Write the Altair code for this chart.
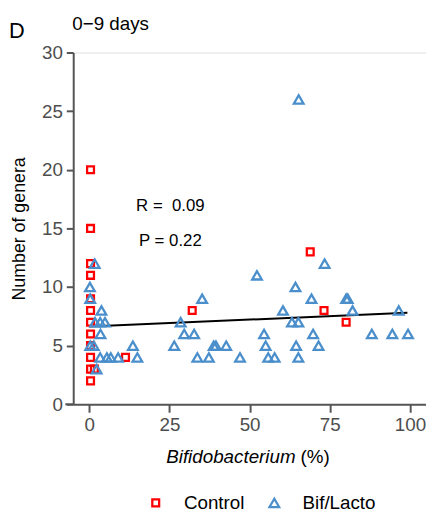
import altair as alt
import pandas as pd

# ---- data ----
control_x = [0.4, 0.4, 0.4, 0.4, 0.4, 0.4, 0.4, 0.4, 0.4, 0.4, 0.4, 1.6, 0.4, 11.3, 32.1, 68.9, 73.2, 80.1]
control_y = [20, 15, 12, 11, 9, 8, 7, 6, 5, 4, 3, 3, 2, 4, 8, 13, 8, 7]

bif_x = [1.7, 0.2, 0.3, 3.8, 1.8, 3.4, 4.9, 3.5, 0.3, 1.4, 2.3, 3.4, 5.5, 6.7, 9.0, 13.6, 15.0,
         26.5, 28.5, 29.6, 32.7, 35.2, 33.7, 37.3, 38.8, 39.5, 42.7, 47.0,
         52.3, 54.5, 55.0, 55.8, 57.8, 60.4, 63.2, 64.3, 64.5, 65.2, 65.2, 65.3,
         69.3, 69.8, 71.5, 73.4, 80.1, 80.6, 82.1, 88.1, 94.5, 96.5, 99.4]
bif_y = [12, 10, 9, 8, 7, 7, 7, 6, 5, 5, 3, 4, 4, 4, 4, 5, 4,
         5, 7, 6, 6, 9, 4, 4, 5, 5, 5, 4,
         11, 6, 5, 4, 4, 8, 7, 10, 5, 7, 4, 26,
         9, 6, 5, 12, 9, 9, 8, 6, 6, 8, 6]

fit_x = [0, 99.2]
fit_y = [6.63, 7.81]

groups = ["Control", "Bif/Lacto"]
colors = ["#FF0000", "#4A8FCB"]
shapes = ["square", "triangle-up"]

x_ticks = [0, 25, 50, 75, 100]
y_ticks = [0, 5, 10, 15, 20, 25, 30]

ann_text = ["R =\u00a0\u00a00.09", "P = 0.22"]
ann_x = [25.3, 25.3]
ann_y = [16.9, 13.9]

FONT = "Liberation Sans"
AXIS_COLOR = "#555555"
LABEL_COLOR = "#4D4D4D"

pts = pd.DataFrame(
    {"group": ["Control"] * len(control_x) + ["Bif/Lacto"] * len(bif_x),
     "x": control_x + bif_x,
     "y": control_y + bif_y}
)
fit = pd.DataFrame({"x": fit_x, "y": fit_y})
ann = pd.DataFrame({"text": ann_text, "x": ann_x, "y": ann_y})

xscale = alt.Scale(domain=[-5, 105], nice=False, zero=False)
yscale = alt.Scale(domain=[0, 30], nice=False)

xaxis = alt.Axis(values=x_ticks, title=None, grid=False, domainColor=AXIS_COLOR, domainWidth=2,
                 tickColor=AXIS_COLOR, tickWidth=2, tickSize=8, labelFontSize=19,
                 labelColor=LABEL_COLOR, labelFont=FONT, labelPadding=4)
yaxis = alt.Axis(values=y_ticks, title="Number of genera", grid=False, domainColor=AXIS_COLOR,
                 domainWidth=2, tickColor=AXIS_COLOR, tickWidth=2, tickSize=7, labelFontSize=19,
                 labelColor=LABEL_COLOR, labelFont=FONT, labelPadding=4, titleFont=FONT,
                 titleFontSize=18, titleFontWeight="normal", titleColor="black", titlePadding=13)

points = alt.Chart(pts).mark_point(filled=False, strokeWidth=2.3, opacity=1).encode(
    x=alt.X("x:Q", scale=xscale, axis=xaxis),
    y=alt.Y("y:Q", scale=yscale, axis=yaxis),
    color=alt.Color("group:N", scale=alt.Scale(domain=groups, range=colors),
                    legend=alt.Legend(title=None, orient="none", direction="horizontal",
                                      legendX=74, legendY=446, labelFont=FONT, labelFontSize=19,
                                      labelColor="black", symbolSize=60, symbolStrokeWidth=2.3,
                                      labelOffset=19, columnPadding=20)),
    shape=alt.Shape("group:N", scale=alt.Scale(domain=groups, range=shapes)),
    size=alt.Size("group:N", scale=alt.Scale(domain=groups, range=[48, 95]), legend=None),
    order=alt.Order("ord:Q"),
).transform_calculate(ord="datum.group == 'Control' ? 0 : 1")

line = alt.Chart(fit).mark_line(color="black", strokeWidth=2).encode(
    x=alt.X("x:Q", scale=xscale), y=alt.Y("y:Q", scale=yscale)
)

annot = alt.Chart(ann).mark_text(font=FONT, fontSize=17, color="black", align="center",
                                 baseline="middle").encode(
    x=alt.X("x:Q", scale=xscale), y=alt.Y("y:Q", scale=yscale), text="text:N"
)

# x-axis line stub extending left past the y-axis
stub = alt.Chart(pd.DataFrame({"a": [0]})).mark_rule(color=AXIS_COLOR, strokeWidth=2).encode(
    x=alt.value(-8), x2=alt.value(0), y=alt.value(356)
)

xt1 = alt.Chart(pd.DataFrame({"t": ["Bifidobacterium"]})).mark_text(
    font=FONT, fontSize=19, fontStyle="italic", align="right", baseline="alphabetic", color="black"
).encode(x=alt.value(225), y=alt.value(415), text="t:N")
xt2 = alt.Chart(pd.DataFrame({"t": ["(%)"]})).mark_text(
    font=FONT, fontSize=19, align="left", baseline="alphabetic", color="black"
).encode(x=alt.value(230), y=alt.value(415), text="t:N")
ttl = alt.Chart(pd.DataFrame({"t": ["0\u22129 days"]})).mark_text(
    font=FONT, fontSize=19, align="left", baseline="alphabetic", color="black"
).encode(x=alt.value(-1), y=alt.value(-23), text="t:N")
dlab = alt.Chart(pd.DataFrame({"t": ["D"]})).mark_text(
    font=FONT, fontSize=22, align="left", baseline="alphabetic", color="black"
).encode(x=alt.value(-65), y=alt.value(-15), text="t:N")

chart = alt.layer(stub, line, points, annot, xt1, xt2, ttl, dlab).properties(
    width=357, height=356,
    autosize=alt.AutoSizeParams(type="none"),
    padding={"left": 66, "top": 42, "right": 0, "bottom": 112},
).configure_view(stroke=None).configure(background="white")

chart.save("out.html", embed_options={"renderer": "svg", "actions": False})
